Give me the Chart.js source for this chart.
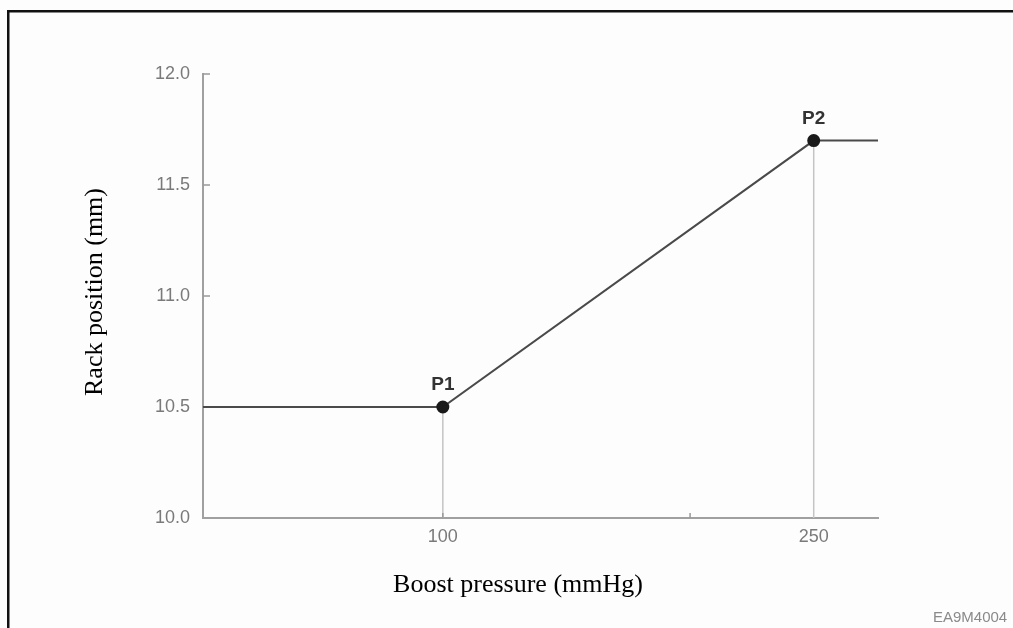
<!DOCTYPE html>
<html>
<head>
<meta charset="utf-8">
<script src="https://cdn.jsdelivr.net/npm/chart.js@4.4.1/dist/chart.umd.min.js"></script>
<style>
html, body { margin: 0; padding: 0; background: #fff; }
#wrap { width: 1013px; height: 628px; }
</style>
</head>
<body>
<div id="wrap"><canvas id="chart"></canvas></div>
<script>
// boost pressure (mmHg) vs rack position (mm)
var pressure = [3, 100, 250, 276];
var rack = [10.5, 10.5, 11.7, 11.7];
var pointNames = ['', 'P1', 'P2', ''];
var xLabelTicks = [100, 250];
var xMarkTicks = [100, 200];
var yMarkTicks = [11.0, 11.5, 12.0];
var xTitle = 'Boost pressure (mmHg)';
var yTitle = 'Rack position (mm)';
var figCode = 'EA9M4004';

var curve = pressure.map(function (p, i) { return {x: p, y: rack[i]}; });
var drops = [];
for (var i = 0; i < pointNames.length; i++) {
  if (pointNames[i]) {
    drops.push({
      data: [{x: pressure[i], y: 10}, {x: pressure[i], y: rack[i]}],
      borderColor: '#c4c4c4', borderWidth: 1.5, pointRadius: 0
    });
  }
}

var extras = {
  id: 'extras',
  beforeDraw: function (chart) {
    var ctx = chart.ctx;
    ctx.save();
    ctx.fillStyle = '#fdfdfd';
    ctx.fillRect(0, 0, chart.width, chart.height);
    ctx.fillStyle = '#111';
    ctx.fillRect(7, 10, chart.width, 2.5);
    ctx.fillRect(7, 10, 2.5, chart.height);
    ctx.restore();
  },
  afterDraw: function (chart) {
    var ctx = chart.ctx;
    var xs = chart.scales.x, ys = chart.scales.y;
    var area = chart.chartArea;
    ctx.save();
    // small inside ticks
    ctx.strokeStyle = '#999';
    ctx.lineWidth = 1.5;
    yMarkTicks.forEach(function (v) {
      var py = ys.getPixelForValue(v);
      ctx.beginPath(); ctx.moveTo(area.left, py); ctx.lineTo(area.left + 7, py); ctx.stroke();
    });
    xMarkTicks.forEach(function (v) {
      var px = xs.getPixelForValue(v);
      ctx.beginPath(); ctx.moveTo(px, area.bottom); ctx.lineTo(px, area.bottom - 5); ctx.stroke();
    });
    // point names
    var meta = chart.getDatasetMeta(0);
    ctx.fillStyle = '#333';
    ctx.font = 'bold 19px "Liberation Sans", Arial, sans-serif';
    ctx.textAlign = 'center';
    ctx.textBaseline = 'middle';
    pointNames.forEach(function (n, i) {
      if (!n) return;
      var el = meta.data[i];
      ctx.fillText(n, el.x, el.y - 22);
    });
    // axis titles
    ctx.fillStyle = '#000';
    ctx.font = '26px "Liberation Serif", "Times New Roman", serif';
    ctx.fillText(xTitle, 518, 585);
    ctx.translate(95, 292);
    ctx.rotate(-Math.PI / 2);
    ctx.fillText(yTitle, 0, 0);
    ctx.restore();
    ctx.save();
    ctx.fillStyle = '#8a8a8a';
    ctx.font = '15px "Liberation Sans", Arial, sans-serif';
    ctx.textAlign = 'left';
    ctx.textBaseline = 'middle';
    ctx.fillText(figCode, 933, 618);
    ctx.restore();
  }
};

new Chart(document.getElementById('chart'), {
  type: 'line',
  data: {
    datasets: [{
      data: curve,
      borderColor: '#4a4a4a',
      borderWidth: 2,
      pointRadius: pointNames.map(function (n) { return n ? 5.5 : 0; }),
      pointBackgroundColor: '#1a1a1a',
      pointBorderColor: '#1a1a1a',
      tension: 0
    }].concat(drops)
  },
  options: {
    responsive: true,
    maintainAspectRatio: false,
    animation: false,
    events: [],
    layout: { padding: { left: 0, right: 135, top: 74, bottom: 0 } },
    plugins: { legend: { display: false }, tooltip: { enabled: false } },
    scales: {
      x: {
        type: 'linear',
        min: 3, max: 276,
        afterBuildTicks: function (s) { s.ticks = xLabelTicks.map(function (v) { return {value: v}; }); },
        afterFit: function (s) { s.height = 110; },
        grid: { display: false, drawTicks: false },
        border: { color: '#a0a0a0', width: 2 },
        ticks: { color: '#7a7a7a', padding: 8, font: { size: 18, family: '"Liberation Sans", Arial, sans-serif' } }
      },
      y: {
        min: 10, max: 12,
        afterBuildTicks: function (s) {
          var t = [];
          for (var v = 10; v <= 12.001; v += 0.5) t.push({value: v});
          s.ticks = t;
        },
        afterFit: function (s) { s.width = 203; },
        grid: { display: false, drawTicks: false },
        border: { color: '#a0a0a0', width: 2 },
        ticks: {
          color: '#7a7a7a', padding: 13,
          font: { size: 18, family: '"Liberation Sans", Arial, sans-serif' },
          callback: function (v) { return v.toFixed(1); }
        }
      }
    }
  },
  plugins: [extras]
});
</script>
</body>
</html>
